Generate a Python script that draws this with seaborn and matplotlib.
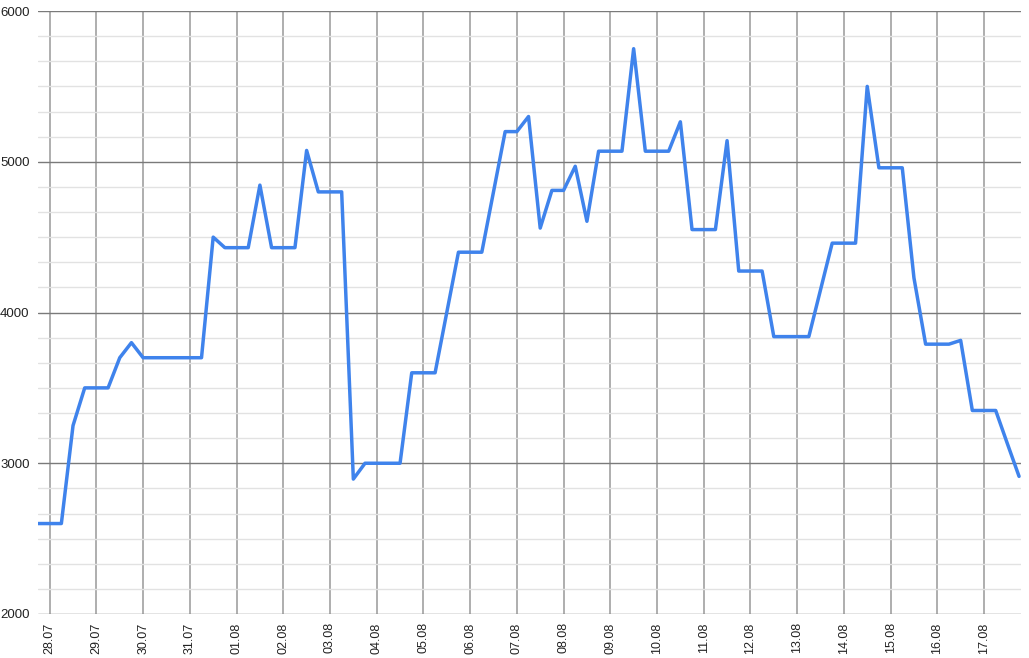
import pandas as pd
import matplotlib
matplotlib.use("Agg")
import matplotlib.pyplot as plt
import matplotlib.dates as mdates
from matplotlib.ticker import MultipleLocator
import seaborn as sns

# =========================
# Datos (lecturas cada 6 horas)
# =========================
inicio = "2023-07-27 18:00"
paso = "6h"
valores = [
    2600, 2600, 2600, 3250, 3500, 3500, 3500, 3700, 3800, 3700,
    3700, 3700, 3700, 3700, 3700, 4500, 4430, 4430, 4430, 4845,
    4430, 4430, 4430, 5075, 4800, 4800, 4800, 2895, 3000, 3000,
    3000, 3000, 3600, 3600, 3600, 4000, 4400, 4400, 4400, 4800,
    5200, 5200, 5300, 4560, 4810, 4810, 4970, 4605, 5070, 5070,
    5070, 5750, 5070, 5070, 5070, 5265, 4550, 4550, 4550, 5140,
    4275, 4275, 4275, 3840, 3840, 3840, 3840, 4150, 4460, 4460,
    4460, 5500, 4960, 4960, 4960, 4230, 3790, 3790, 3790, 3815,
    3350, 3350, 3350, 3130, 2913,
]
y_min, y_max = 2000, 6000

df = pd.DataFrame({
    "fecha": pd.date_range(inicio, periods=len(valores), freq=paso),
    "valor": valores,
})

sns.set_style("white")
plt.rcParams["font.family"] = ["Liberation Sans", "DejaVu Sans"]

fig = plt.figure(figsize=(10.29, 6.58), dpi=100)
ax = fig.add_axes([38 / 1029, 1 - 614 / 658, (1021 - 38) / 1029, (614 - 11) / 658])

sns.lineplot(data=df, x="fecha", y="valor", ax=ax, color="#3f83ec", linewidth=2.5, zorder=5)

ax.set_ylim(y_min, y_max)
ax.set_xlim(df["fecha"].iloc[0], df["fecha"].iloc[-1] + pd.Timedelta(hours=1))

# Ejes y rejilla
ax.yaxis.set_major_locator(MultipleLocator(1000))
ax.yaxis.set_minor_locator(MultipleLocator(1000 / 6))
ax.xaxis.set_major_locator(mdates.DayLocator())
ax.xaxis.set_major_formatter(mdates.DateFormatter("%d.%m"))

ax.grid(axis="y", which="major", color="#7a7a7a", linewidth=1.0, zorder=2)
ax.grid(axis="y", which="minor", color="#e2e2e2", linewidth=1.0, zorder=1)
ax.grid(axis="x", which="major", color="#a8a8a8", linewidth=1.3, zorder=2)

for s in ax.spines.values():
    s.set_visible(False)

ax.tick_params(axis="both", which="both", length=0)
ax.tick_params(axis="y", labelsize=9.5, pad=6, labelcolor="#222222")
ax.tick_params(axis="x", labelsize=9, pad=6, labelrotation=90, labelcolor="#222222")
ax.set_xlabel("")
ax.set_ylabel("")

fig.savefig("out.png", dpi=100)
